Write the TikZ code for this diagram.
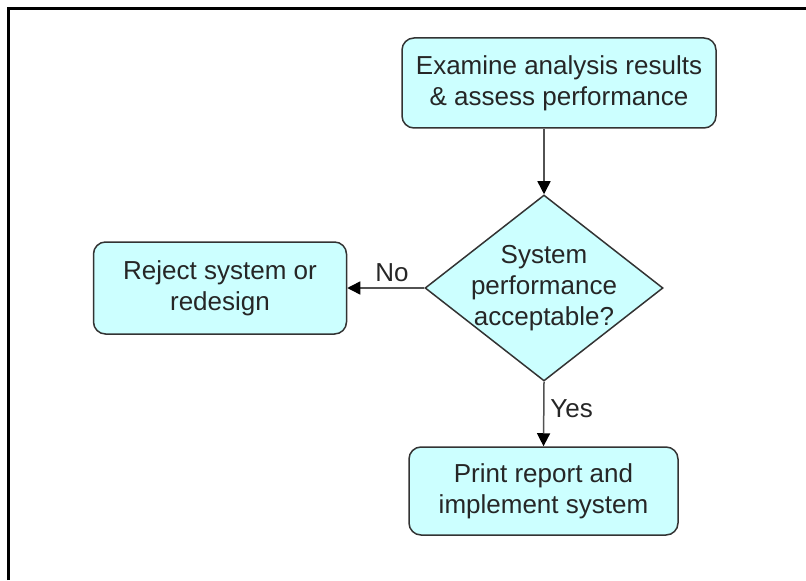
\documentclass[tikz,border=0pt]{standalone}
\usepackage{fontspec}
\setmainfont{Liberation Sans}
\usetikzlibrary{shapes.geometric, arrows.meta}
\definecolor{boxfill}{RGB}{204,255,255}
\definecolor{boxline}{RGB}{51,51,51}

\begin{document}
\begin{tikzpicture}[
    stepbox/.style={draw=boxline, fill=boxfill, rounded corners=0.24cm, line width=0.03cm, align=center, inner sep=0pt},
    decision/.style={draw=boxline, fill=boxfill, diamond, line width=0.03cm, inner sep=0pt},
    flow/.style={draw=boxline!85, line width=0.03cm, -{Triangle[length=0.26cm, width=0.26cm, color=black]}},
    every node/.style={font=\fontsize{14.8}{17.5}\selectfont, text=black!85}
]
    \useasboundingbox (0,0) rectangle (16.12,11.6);
    % frame (only left and top edges show)
    \draw[line width=0.06cm] (0.18,0) -- (0.18,11.42) -- (16.12,11.42);

    \node[stepbox, minimum width=6.28cm, minimum height=1.8cm] (examine) at (11.18,9.94)
        {Examine analysis results\\\& assess performance};
    \node[decision, minimum width=4.76cm, minimum height=3.72cm] (check) at (10.88,5.84) {};
    \node[align=center] (checktext) at (check.center) {System\\performance\\acceptable?};
    \node[stepbox, minimum width=5.06cm, minimum height=1.84cm] (reject) at (4.40,5.84)
        {Reject system or\\redesign};
    \node[stepbox, minimum width=5.38cm, minimum height=1.76cm] (report) at (10.87,1.78)
        {Print report and\\implement system};

    \draw[flow] (check.north |- examine.south) -- (check.north);
    \draw[flow] (check.west) -- node[above, pos=0.42] (no) {No} (reject.east);
    \draw[flow] (check.south) -- node[right, pos=0.42] (yes) {Yes} (report.north);
\end{tikzpicture}
\end{document}
